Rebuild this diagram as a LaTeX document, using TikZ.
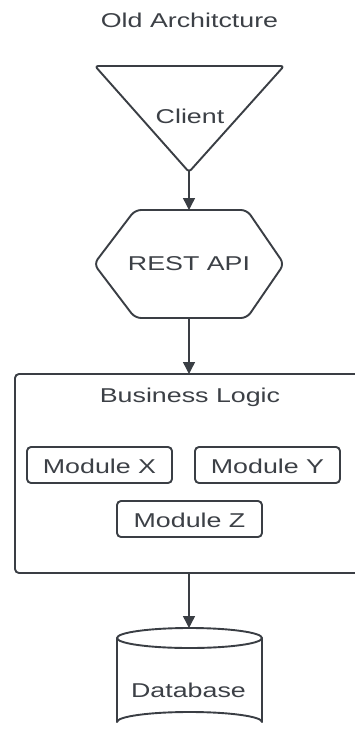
\documentclass[tikz,border=0pt]{standalone}
\usepackage{fontspec}
\setmainfont{Liberation Sans}[FakeStretch=1.34]
\usetikzlibrary{arrows.meta}
\definecolor{ink}{HTML}{3A3E44}
\definecolor{txt}{HTML}{3C4046}
\tikzset{
  shape line/.style={draw=ink, line width=1.9pt, line join=round, fill=white},
  label text/.style={inner sep=0pt, anchor=base, text=txt, font=\fontsize{20}{24}\selectfont},
  flow/.style={draw=ink, line width=1.4pt, -{Triangle[width=12pt,length=12pt]}},
  modbox/.style={shape line, rounded corners=4pt},
}
\begin{document}
\begin{tikzpicture}[x=1pt, y=-1pt]
\useasboundingbox (0,0) rectangle (355,733);

% title
\node[label text] (title) at (189.5,27.7) {Old Architcture};

% client: inverted triangle
\draw[shape line, rounded corners=3pt] (95,66) -- (284,66) -- (189,172) -- cycle;
\coordinate (clienttip) at (189,171);
\node[label text] (client) at (190,124) {Client};

% REST API: hexagon
\draw[shape line, rounded corners=6pt] (135,210) -- (247,210) -- (284,264) -- (247,318)
  -- (135,318) -- (94,264) -- cycle;
\coordinate (apitop) at (189,210);
\coordinate (apibottom) at (189,318);
\node[label text] (api) at (189,270) {REST API};

% business logic container
\draw[shape line, rounded corners=4pt] (15,374) rectangle (363,573);
\coordinate (bltop) at (189,374);
\coordinate (blbottom) at (189,573);
\node[label text] (bl) at (190,402) {Business Logic};

% modules
\draw[modbox] (27,447) rectangle (172,483);
\node[label text] (modx) at (99.5,473) {Module X};
\draw[modbox] (195,447) rectangle (340,483);
\node[label text] (mody) at (267.5,473) {Module Y};
\draw[modbox] (117,501) rectangle (262,537);
\node[label text] (modz) at (189.5,527) {Module Z};

% database cylinder
\draw[shape line] (117,638) -- (117,722) arc[start angle=180, end angle=360, x radius=72.5, y radius=10]
  -- (262,638);
\draw[shape line] (189.5,638) ellipse[x radius=72.5, y radius=10];
\coordinate (dbtop) at (189,628);
\node[label text] (db) at (188.5,697) {Database};

% connectors
\draw[flow] (clienttip) -- (apitop);
\draw[flow] (apibottom) -- (bltop);
\draw[flow] (blbottom) -- (dbtop);
\end{tikzpicture}
\end{document}
